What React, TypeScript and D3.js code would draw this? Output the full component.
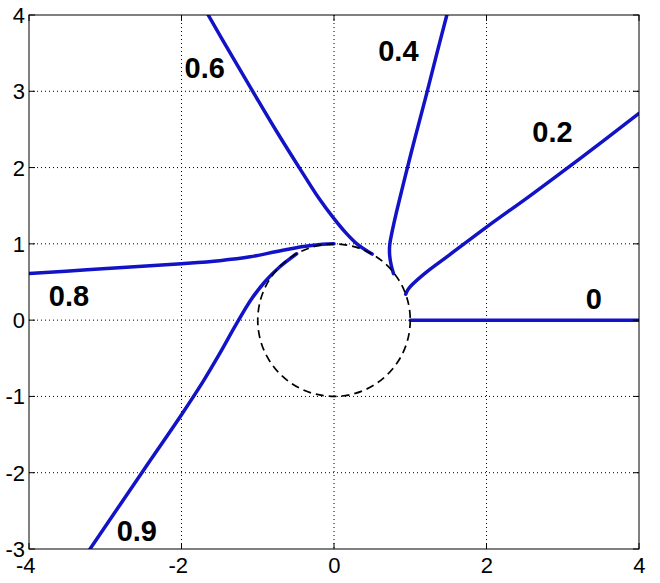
import React from "react";
import * as d3 from "d3";

const W = 660;
const H = 583;
const xTicks = [-4, -2, 0, 2, 4];
const yTicks = [-3, -2, -1, 0, 1, 2, 3, 4];

const curve0: [number, number][] = [[1, 0], [4, 0]];
const curve02: [number, number][] = [[0.94, 0.34], [0.97, 0.4], [1.02, 0.46], [1.2, 0.62], [1.48, 0.83], [2.0, 1.22], [2.57, 1.63], [3.23, 2.12], [4.0, 2.71]];
const curve04: [number, number][] = [[0.78, 0.61], [0.75, 0.72], [0.73, 0.85], [0.73, 0.98], [0.76, 1.15], [0.82, 1.42], [0.92, 1.83], [1.06, 2.38], [1.21, 2.95], [1.35, 3.5], [1.48, 4.0]];
const curve06: [number, number][] = [[-1.65, 4.0], [-1.32, 3.43], [-1.06, 2.99], [-0.75, 2.47], [-0.45, 1.99], [-0.2, 1.6], [0.0, 1.33], [0.15, 1.15], [0.3, 1.0], [0.5, 0.866]];
const curve08: [number, number][] = [[-4, 0.61], [-3.24, 0.66], [-2.0, 0.74], [-1.5, 0.78], [-1.1, 0.83], [-0.75, 0.9], [-0.4, 0.965], [-0.15, 0.995], [0, 1.0]];
const curve09: [number, number][] = [[-3.2, -3], [-2.5, -1.97], [-2.0, -1.24], [-1.72, -0.81], [-1.5, -0.44], [-1.28, -0.05], [-1.08, 0.28], [-0.9, 0.51], [-0.71, 0.7], [-0.49, 0.87]];

const curves = [curve0, curve02, curve04, curve06, curve08, curve09];

const labels = ["0", "0.2", "0.4", "0.6", "0.8", "0.9"];
const labelPos: [number, number][] = [[3.3, 0.14], [2.6, 2.34], [0.58, 3.4], [-1.96, 3.17], [-3.74, 0.19], [-2.85, -2.89]];

export default function App() {
  const left = 29, right = 639, top = 15, bottom = 549;
  const x = d3.scaleLinear().domain([-4, 4]).range([left, right]);
  const y = d3.scaleLinear().domain([-3, 4]).range([bottom, top]);
  const line = d3.line<[number, number]>().x(d => x(d[0])).y(d => y(d[1])).curve(d3.curveCatmullRom.alpha(0.5));
  const r = x(1) - x(0);
  const blue = "#1212c6";
  const font = "'Liberation Sans', Arial, sans-serif";
  return (
    <svg width={W} height={H} style={{ position: "absolute", left: 0, top: 0, background: "#fff" }}>
      <defs>
        <clipPath id="clip"><rect x={left} y={top} width={right - left} height={bottom - top} /></clipPath>
      </defs>
      <rect x={0} y={0} width={W} height={H} fill="#fff" />
      {xTicks.slice(1, -1).map(t => (
        <line key={"gx" + t} x1={x(t)} x2={x(t)} y1={top} y2={bottom} stroke="#000" strokeWidth={1} strokeDasharray="1,3" />
      ))}
      {yTicks.slice(1, -1).map(t => (
        <line key={"gy" + t} x1={left} x2={right} y1={y(t)} y2={y(t)} stroke="#000" strokeWidth={1} strokeDasharray="1,3" />
      ))}
      <g clipPath="url(#clip)">
        {curves.map((c, i) => (
          <path key={i} d={line(c) || ""} fill="none" stroke={blue} strokeWidth={3.5} strokeLinejoin="round" strokeLinecap="round" />
        ))}
      </g>
      <circle cx={x(0)} cy={y(0)} r={r} fill="none" stroke="#000" strokeWidth={1.7} strokeDasharray="8,5" />
      {xTicks.map(t => (
        <g key={"tx" + t}>
          <line x1={x(t)} x2={x(t)} y1={bottom} y2={bottom - 6} stroke="#000" />
          <line x1={x(t)} x2={x(t)} y1={top} y2={top + 6} stroke="#000" />
          <text x={x(t) + 6.5} y={573} textAnchor="end" fontFamily={font} fontSize={22}>{t < 0 ? "-" + Math.abs(t) : String(t)}</text>
        </g>
      ))}
      {yTicks.map(t => (
        <g key={"ty" + t}>
          <line x1={left} x2={left + 6} y1={y(t)} y2={y(t)} stroke="#000" />
          <line x1={right} x2={right - 6} y1={y(t)} y2={y(t)} stroke="#000" />
          <text x={25} y={y(t) + 8} textAnchor="end" fontFamily={font} fontSize={22}>{t < 0 ? "-" + Math.abs(t) : String(t)}</text>
        </g>
      ))}
      <rect x={left} y={top} width={right - left} height={bottom - top} fill="none" stroke="#000" strokeWidth={1} />
      {labels.map((l, i) => (
        <text key={l} x={x(labelPos[i][0])} y={y(labelPos[i][1])} fontFamily={font} fontSize={29} fontWeight="bold">{l}</text>
      ))}
    </svg>
  );
}
